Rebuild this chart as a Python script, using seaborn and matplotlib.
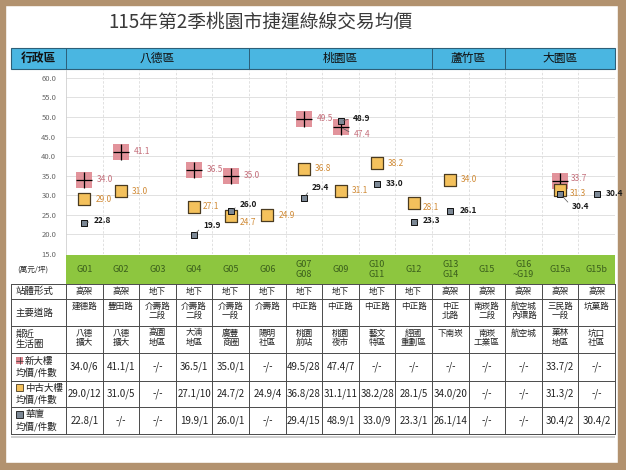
import numpy as np
import pandas as pd
import matplotlib
matplotlib.use("Agg")
import matplotlib.pyplot as plt
import seaborn as sns
from matplotlib.patches import Rectangle

# ---------------- data ----------------
stations = ["G01", "G02", "G03", "G04", "G05", "G06", "G07\nG08", "G09", "G10\nG11",
            "G12", "G13\nG14", "G15", "G16\n~G19", "G15a", "G15b"]
districts = ["八德區", "桃園區", "蘆竹區", "大園區"]
district_span = [5, 5, 2, 3]
station_type = ["高架", "高架", "地下", "地下", "地下", "地下", "地下", "地下", "地下", "地下",
                "高架", "高架", "高架", "高架", "高架"]
main_road = ["建德路", "豐田路", "介壽路\n二段", "介壽路\n二段", "介壽路\n一段", "介壽路", "中正路",
             "中正路", "中正路", "中正路", "中正\n北路", "南崁路\n二段", "航空城\n內環路", "三民路\n一段", "坑菓路"]
life_circle = ["八德\n擴大", "八德\n擴大", "高園\n地區", "大湳\n地區", "廣豐\n商圈", "陽明\n社區", "桃園\n前站",
               "桃園\n夜市", "藝文\n特區", "經國\n重劃區", "下南崁", "南崁\n工業區", "航空城", "菓林\n地區", "坑口\n社區"]
nan = np.nan
new_price = [34.0, 41.1, nan, 36.5, 35.0, nan, 49.5, 47.4, nan, nan, nan, nan, nan, 33.7, nan]
new_count = [6, 1, 0, 1, 1, 0, 28, 7, 0, 0, 0, 0, 0, 2, 0]
used_price = [29.0, 31.0, nan, 27.1, 24.7, 24.9, 36.8, 31.1, 38.2, 28.1, 34.0, nan, nan, 31.3, nan]
used_count = [12, 5, 0, 10, 2, 4, 28, 11, 28, 5, 20, 0, 0, 2, 0]
hx_price = [22.8, nan, nan, 19.9, 26.0, nan, 29.4, 48.9, 33.0, 23.3, 26.1, nan, nan, 30.4, 30.4]
hx_count = [1, 0, 0, 1, 1, 0, 15, 1, 9, 1, 14, 0, 0, 2, 2]
yticks = [15, 20, 25, 30, 35, 40, 45, 50, 55, 60]

title = "115年第2季桃園市捷運綠線交易均價"
row_labels = ["站體形式", "主要道路", "鄰近\n生活圈", "新大樓\n均價/件數", "中古大樓\n均價/件數", "華廈\n均價/件數"]

# ---------------- style ----------------
sns.set_style("white")
plt.rcParams["font.family"] = ["Noto Sans CJK TC", "DejaVu Sans"]

W, H = 626, 470
fig = plt.figure(figsize=(W / 100, H / 100), dpi=100)
fig.patch.set_facecolor("white")

bg = fig.add_axes([0, 0, 1, 1])
bg.set_xlim(0, W)
bg.set_ylim(H, 0)
bg.axis("off")

L, R = 66, 615
n = len(stations)
cw = (R - L) / n
centers = [L + cw * (i + 0.5) for i in range(n)]

# frame
fc = "#B2926F"
bg.add_patch(Rectangle((0, 0), W, 5, color=fc))
bg.add_patch(Rectangle((0, H - 7), W, 7, color=fc))
bg.add_patch(Rectangle((0, 0), 5, H, color=fc))
bg.add_patch(Rectangle((W - 8, 0), 8, H, color=fc))

# title
bg.text(261, 22, title, ha="center", va="center", fontsize=13.5, color="#3a3a3a")

# header bar
hy0, hy1 = 48, 69
bg.add_patch(Rectangle((11, hy0), R - 11, hy1 - hy0, facecolor="#4AB6E1",
                       edgecolor="#2d5f78", lw=0.8))
bg.text((11 + L) / 2, (hy0 + hy1) / 2, "行政區", ha="center", va="center", fontsize=8.5,
        color="#111", fontweight="bold")
x0 = L
for name, span in zip(districts, district_span):
    x1 = x0 + span * cw
    bg.plot([x0, x0], [hy0, hy1], color="#2d5f78", lw=0.7)
    bg.text((x0 + x1) / 2, (hy0 + hy1) / 2, name, ha="center", va="center", fontsize=8.5, color="#111")
    x0 = x1

# green station bar
gy0, gy1 = 255, 284
bg.add_patch(Rectangle((L, gy0), R - L, gy1 - gy0, facecolor="#8DC63F", edgecolor="none"))
for cx, s in zip(centers, stations):
    bg.text(cx, (gy0 + gy1) / 2, s, ha="center", va="center", fontsize=6.5, color="#3A5E1C",
            linespacing=1.2)
bg.text(17, (gy0 + gy1) / 2, "(萬元/坪)", ha="left", va="center", fontsize=5.5, color="#333")

# table
rows_y = [284, 299, 326, 353, 381, 407, 434]
lc = "#4a4a4a"
bg.add_patch(Rectangle((11, 436), R - 11, 2, color="#cfcfcf", lw=0))
for y in rows_y:
    bg.plot([11, R], [y, y], color=lc, lw=0.7)
for xb in [11] + [L + cw * k for k in range(n + 1)]:
    bg.plot([xb, xb], [rows_y[0], rows_y[-1]], color=lc, lw=0.7)

def fmt(p, c):
    return "-/-" if np.isnan(p) else f"{p:.1f}/{c}"

text_rows = [station_type, main_road, life_circle,
             [fmt(p, c) for p, c in zip(new_price, new_count)],
             [fmt(p, c) for p, c in zip(used_price, used_count)],
             [fmt(p, c) for p, c in zip(hx_price, hx_count)]]
for r, vals in enumerate(text_rows):
    ya, yb = rows_y[r], rows_y[r + 1]
    for cx, v in zip(centers, vals):
        if r in (1, 2):
            bg.text(cx, ya + 2.5, v, ha="center", va="top", fontsize=6.2, color="#222", linespacing=1.05)
        elif r == 0:
            bg.text(cx, (ya + yb) / 2, v, ha="center", va="center", fontsize=6.2, color="#222")
        else:
            bg.text(cx, (ya + yb) / 2, v, ha="center", va="center", fontsize=7, color="#222")

# row labels
new_col, new_plus = "#DF8790", "#000000"
used_col, used_edge = "#F4C15C", "#4a3b20"
hx_col, hx_edge = "#7C8895", "#111111"
for r, lab in enumerate(row_labels):
    ya, yb = rows_y[r], rows_y[r + 1]
    if r < 3:
        bg.text(16, (ya + yb) / 2, lab, ha="left", va="center", fontsize=6.8, color="#222", linespacing=1.15)
    else:
        first, second = lab.split("\n")
        ym = (ya + yb) / 2
        bg.text(25, ym - 6, first, ha="left", va="center", fontsize=6.8, color="#222")
        bg.text(16, ym + 6, second, ha="left", va="center", fontsize=6.8, color="#222")
        if r == 3:
            bg.add_patch(Rectangle((16, ym - 10), 7, 7, facecolor=new_col, edgecolor="none"))
            bg.plot([19.5, 19.5], [ym - 10, ym - 3], color="#333", lw=0.5)
            bg.plot([16, 23], [ym - 6.5, ym - 6.5], color="#333", lw=0.5)
        elif r == 4:
            bg.add_patch(Rectangle((16, ym - 10), 7, 7, facecolor=used_col, edgecolor=used_edge, lw=0.6))
        else:
            bg.add_patch(Rectangle((16, ym - 10), 7, 7, facecolor=hx_col, edgecolor=hx_edge, lw=0.6))

# ---------------- scatter axes ----------------
ax = fig.add_axes([L / W, 1 - 254 / H, (R - L) / W, (254 - 70) / H])
ax.patch.set_alpha(0)
ax.set_xlim(-0.5, n - 0.5)
ax.set_ylim(15, 62)
ax.set_yticks(yticks)
ax.set_yticklabels([f"{v:.1f}" for v in yticks])
ax.set_xticks(np.arange(0.5, n - 1, 1))
ax.set_xticklabels([])
ax.tick_params(axis="both", length=0, labelsize=5.5, labelcolor="#666", pad=7)
ax.grid(axis="y", color="#DCDCDC", lw=0.6)
ax.grid(axis="x", color="#DCDCDC", lw=0.6, ls=(0, (3, 2)))
for s in ["top", "right", "bottom"]:
    ax.spines[s].set_visible(False)
ax.spines["left"].set_color("#D0D0D0")
ax.spines["left"].set_linewidth(0.6)

idx = np.arange(n)
df_new = pd.DataFrame({"x": idx, "y": new_price}).dropna()
df_used = pd.DataFrame({"x": idx, "y": used_price}).dropna()
df_hx = pd.DataFrame({"x": idx, "y": hx_price}).dropna()

sns.scatterplot(data=df_new, x="x", y="y", marker="s", s=135, color=new_col, alpha=0.9,
                linewidth=0, ax=ax, zorder=3)
sns.scatterplot(data=df_new, x="x", y="y", marker="+", s=135, color=new_plus, linewidth=0.9,
                ax=ax, zorder=4)
sns.scatterplot(data=df_used, x="x", y="y", marker="s", s=72, color=used_col,
                edgecolor=used_edge, linewidth=0.9, ax=ax, zorder=5)
sns.scatterplot(data=df_hx, x="x", y="y", marker="s", s=24, color=hx_col,
                edgecolor=hx_edge, linewidth=0.7, ax=ax, zorder=6)
ax.set_xlabel("")
ax.set_ylabel("")

# label offsets (pixels: right, down) and leader flags
new_off = {7: (13, 7, True), 13: (11, -2, False)}
used_off = {3: (9, 0, False), 4: (9, 6, False), 9: (9, 5, False), 13: (10, 3, False)}
hx_off = {0: (9, -3, True), 3: (9, -9, True), 4: (9, -6, True), 6: (8, -10, True),
          7: (12, -3, True), 9: (9, -1, True), 13: (12, 13, True)}

def label_series(prices, offs, default, color, weight):
    for i, p in enumerate(prices):
        if np.isnan(p):
            continue
        dx, dy, lead = offs.get(i, (default, 0, False))
        kw = {}
        if lead:
            kw["arrowprops"] = dict(arrowstyle="-", color="#555", lw=0.5, shrinkA=1, shrinkB=2,
                                    relpos=(0, 0.5))
        ax.annotate(f"{p:.1f}", xy=(i, p), xytext=(dx, -dy), textcoords="offset pixels",
                    ha="left", va="center", fontsize=6, color=color, fontweight=weight,
                    zorder=8, **kw)

label_series(new_price, new_off, 13, "#C46E7A", "normal")
label_series(used_price, used_off, 11, "#D08A35", "normal")
label_series(hx_price, hx_off, 9, "#1a1a1a", "bold")

fig.savefig("out.png", dpi=100, facecolor="white")
